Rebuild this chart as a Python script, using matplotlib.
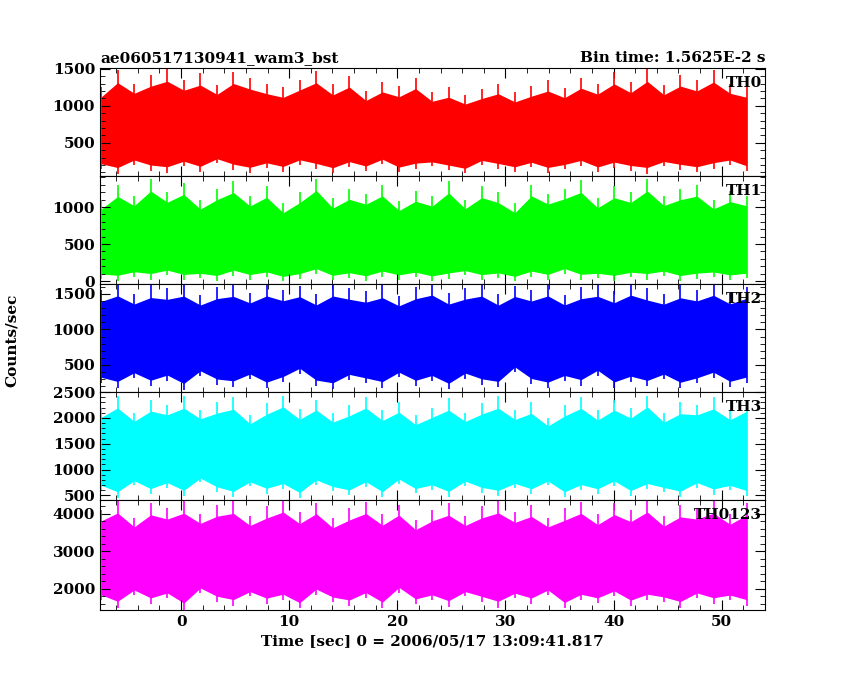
import numpy as np
import matplotlib.pyplot as plt
from matplotlib.ticker import AutoMinorLocator

plt.rcParams['font.family'] = ['DejaVu Serif']
plt.rcParams['font.weight'] = 'semibold'
plt.rcParams['axes.titleweight'] = 'semibold'
plt.rcParams['axes.labelweight'] = 'semibold'

# peak / trough envelopes, 40 samples per band
th0_hi = [1250, 1480, 1300, 1420, 1500, 1350, 1440, 1280, 1460, 1380, 1300, 1250, 1350, 1470, 1290, 1400,
          1200, 1320, 1260, 1380, 1180, 1250, 1150, 1220, 1300, 1180, 1260, 1350, 1240, 1380, 1300, 1450,
          1320, 1500, 1280, 1420, 1350, 1480, 1300, 1250]
th0_lo = [150, 80, 200, 120, 90, 180, 100, 220, 130, 90, 160, 110, 200, 140, 90, 170, 120, 210, 100, 150,
          180, 130, 90, 200, 150, 110, 170, 90, 140, 190, 100, 160, 120, 80, 180, 130, 100, 150, 200, 120]
th1_hi = [1100, 1300, 1150, 1380, 1200, 1330, 1100, 1250, 1350, 1150, 1280, 1050, 1200, 1380, 1120, 1250,
          1180, 1300, 1080, 1220, 1150, 1350, 1100, 1280, 1200, 1050, 1300, 1180, 1250, 1360, 1120, 1280,
          1200, 1380, 1150, 1250, 1300, 1100, 1220, 1150]
th1_lo = [30, 0, 60, 20, 80, 10, 40, 0, 70, 20, 50, 0, 30, 90, 10, 40, 0, 60, 20, 50, 0, 30, 80, 10, 40,
          0, 60, 20, 100, 10, 40, 0, 50, 20, 70, 0, 30, 60, 10, 40]
th2_hi = [1550, 1650, 1500, 1620, 1580, 1650, 1480, 1600, 1640, 1520, 1650, 1560, 1610, 1500, 1650, 1580,
          1540, 1620, 1470, 1600, 1650, 1520, 1580, 1640, 1500, 1610, 1560, 1650, 1490, 1600, 1620, 1540,
          1650, 1580, 1500, 1620, 1560, 1640, 1520, 1600]
th2_lo = [250, 180, 320, 200, 280, 150, 350, 220, 190, 300, 170, 260, 380, 210, 160, 290, 240, 180, 330,
          200, 270, 160, 310, 220, 190, 400, 230, 170, 280, 210, 350, 180, 260, 200, 300, 170, 240, 320, 190, 250]
th3_hi = [2200, 2430, 2100, 2350, 2250, 2420, 2150, 2300, 2400, 2050, 2280, 2430, 2180, 2350, 2100, 2250,
          2400, 2150, 2300, 2050, 2200, 2380, 2100, 2280, 2420, 2150, 2300, 2000, 2250, 2400, 2150, 2350,
          2200, 2430, 2100, 2300, 2250, 2400, 2150, 2350]
th3_lo = [600, 450, 700, 520, 650, 480, 750, 560, 460, 680, 530, 620, 450, 700, 580, 500, 660, 470, 720,
          540, 610, 460, 690, 550, 480, 640, 520, 700, 460, 600, 530, 680, 490, 620, 560, 470, 650, 510, 600, 480]
th0123_hi = [4100, 4370, 3900, 4300, 4150, 4370, 4000, 4250, 4350, 3950, 4200, 4370, 4050, 4300, 3900, 4150,
             4320, 4000, 4250, 3850, 4100, 4300, 3950, 4200, 4370, 4050, 4250, 3900, 4150, 4330, 4000, 4280,
             4100, 4370, 3950, 4250, 4150, 4350, 4000, 4300]
th0123_lo = [1700, 1500, 1850, 1600, 1750, 1450, 1900, 1650, 1550, 1800, 1600, 1700, 1480, 1850, 1650, 1550,
             1750, 1500, 1900, 1600, 1700, 1520, 1800, 1650, 1500, 1750, 1600, 1850, 1480, 1700, 1620, 1800,
             1550, 1700, 1650, 1500, 1750, 1600, 1700, 1550]

t_start, t_end = -7.4, 52.3
names = ['TH0', 'TH1', 'TH2', 'TH3', 'TH0123']
colors = ['#ff0000', '#00ff00', '#0000ff', '#00ffff', '#ff00ff']
his = [th0_hi, th1_hi, th2_hi, th3_hi, th0123_hi]
los = [th0_lo, th1_lo, th2_lo, th3_lo, th0123_lo]
ylims = [(50, 1510), (-40, 1420), (120, 1640), (410, 2430), (1440, 4370)]
yticks = [[500, 1000, 1500], [0, 500, 1000], [500, 1000, 1500], [500, 1000, 1500, 2000, 2500], [2000, 3000, 4000]]

fig = plt.figure(figsize=(8.5, 6.8), dpi=100)
W, H = 850, 680
tops = [68, 176, 284, 392, 500, 610]
axes = []
for i in range(5):
    ax = fig.add_axes([100 / W, 1 - tops[i + 1] / H, 665 / W, (tops[i + 1] - tops[i]) / H])
    hi = np.array(his[i])
    lo = np.array(los[i])
    t = np.linspace(t_start, t_end, len(hi))
    # solid core of the band plus the individual spikes
    ax.fill_between(t, lo + (hi - lo) * 0.06, hi - (hi - lo) * 0.12, color=colors[i], lw=0)
    ax.vlines(t, lo, hi, color=colors[i], lw=1.2)
    ax.set_xlim(-7.5, 54)
    ax.set_ylim(*ylims[i])
    ax.set_yticks(yticks[i])
    ax.xaxis.set_minor_locator(AutoMinorLocator(5))
    ax.yaxis.set_minor_locator(AutoMinorLocator(5))
    ax.tick_params(which='both', direction='in', top=True, right=True, labelsize=11)
    ax.tick_params(which='major', length=7)
    ax.tick_params(which='minor', length=3.5)
    ax.text(0.995, 0.93, names[i], transform=ax.transAxes, ha='right', va='top', fontsize=11)
    if i < 4:
        ax.tick_params(labelbottom=False)
    axes.append(ax)

axes[0].set_title('ae060517130941_wam3_bst', loc='left', fontsize=11, pad=4)
axes[0].set_title('Bin time: 1.5625E-2 s', loc='right', fontsize=11, pad=4)
axes[4].set_xticks([0, 10, 20, 30, 40, 50])
axes[4].set_xlabel('Time [sec] 0 = 2006/05/17 13:09:41.817', fontsize=11)
fig.text(0.006, 0.5, 'Counts/sec', rotation=90, va='center', fontsize=11)

fig.savefig('out.png', dpi=100)
